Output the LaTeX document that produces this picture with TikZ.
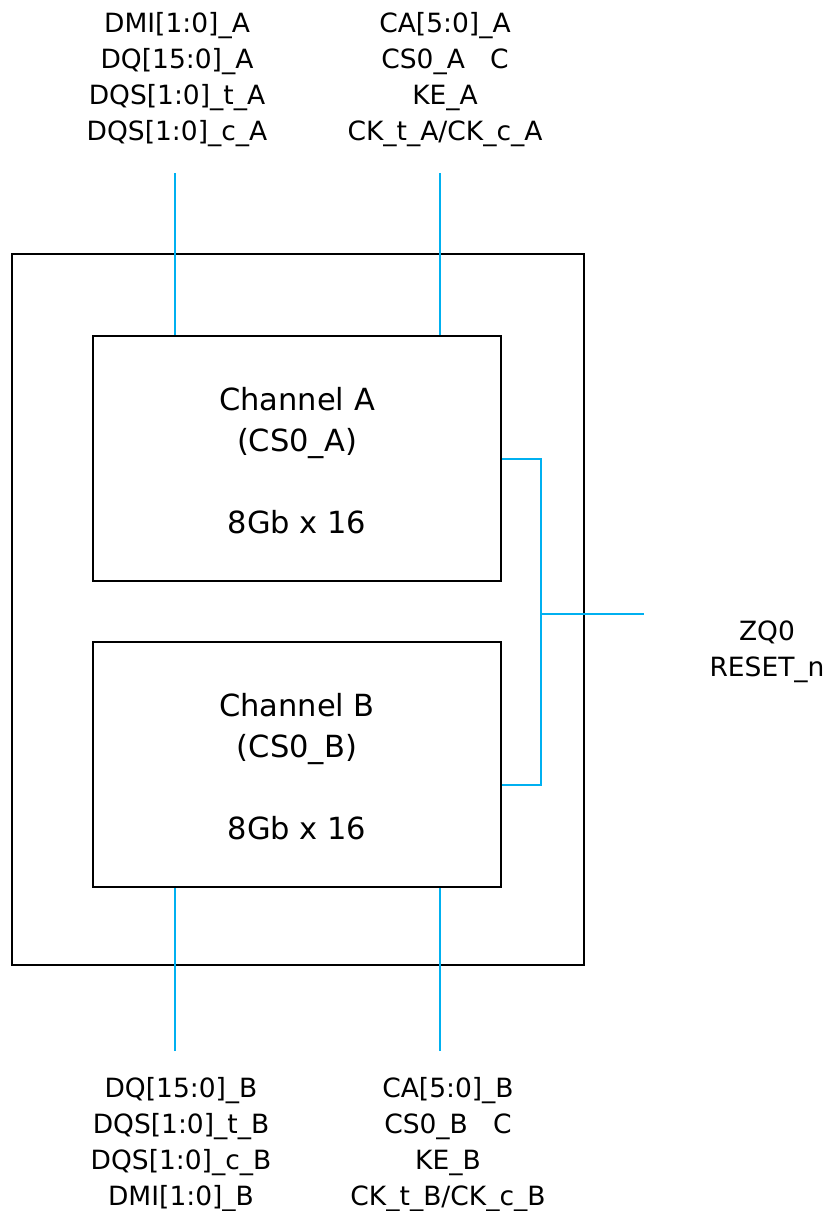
\documentclass[tikz,border=0pt]{standalone}
\usepackage{fontspec}
\setmainfont{DejaVu Sans}
\definecolor{sigblue}{RGB}{0,176,240}
\begin{document}
\begin{tikzpicture}[x=1pt,y=-1pt,
  box/.style={draw=black,line width=2pt,inner sep=0pt,minimum width=408pt,minimum height=245pt,align=center,font=\fontsize{30.5}{41}\selectfont},
  sig/.style={draw=sigblue,line width=2pt},
  lbl/.style={align=center,inner sep=0pt,font=\fontsize{26.5}{36}\selectfont}]
\useasboundingbox (0,0) rectangle (829,1211);
% outer package
\node[draw=black,line width=2pt,inner sep=0pt,minimum width=572pt,minimum height=711pt] (outer) at (298,609.5) {};
% channels
\node[box] (chA) at (297,458.5) {};
\node[box] (chB) at (297,764.5) {};
\node[align=center,inner sep=0pt,font=\fontsize{30.5}{41}\selectfont] (tA) at ([yshift=-2pt]chA.center) {Channel A\\(CS0\_A)\\[41pt]8Gb x 16};
\node[align=center,inner sep=0pt,font=\fontsize{30.5}{41}\selectfont] (tB) at ([yshift=-2pt]chB.center) {Channel B\\(CS0\_B)\\[41pt]8Gb x 16};
% signal free ends
\coordinate (tL) at (175,173);
\coordinate (tR) at (440,173);
\coordinate (bL) at (175,1051);
\coordinate (bR) at (440,1051);
\coordinate (jA) at (541,459);
\coordinate (jB) at (541,785);
\coordinate (jM) at (541,614);
\coordinate (zq) at (644,614);
% connectors
\draw[sig] (tL) -- (tL |- chA.north);
\draw[sig] (tR) -- (tR |- chA.north);
\draw[sig] (bL) -- (bL |- chB.south);
\draw[sig] (bR) -- (bR |- chB.south);
\draw[sig] (chA.east |- jA) -- (jA) -- (jB) -- (chB.east |- jB);
\draw[sig] (jM) -- (zq);
% labels
\node[lbl] (lTL) at (177,80) {DMI[1:0]\_A\\DQ[15:0]\_A\\DQS[1:0]\_t\_A\\DQS[1:0]\_c\_A};
\node[lbl] (lTR) at (445,80) {CA[5:0]\_A\\CS0\_A\ \ \ C\\KE\_A\\CK\_t\_A/CK\_c\_A};
\node[lbl] (lBL) at (181,1145) {DQ[15:0]\_B\\DQS[1:0]\_t\_B\\DQS[1:0]\_c\_B\\DMI[1:0]\_B};
\node[lbl] (lBR) at (448,1145) {CA[5:0]\_B\\CS0\_B\ \ \ C\\KE\_B\\CK\_t\_B/CK\_c\_B};
\node[lbl] (lZQ) at (767,652) {ZQ0\\RESET\_n};
\end{tikzpicture}
\end{document}
